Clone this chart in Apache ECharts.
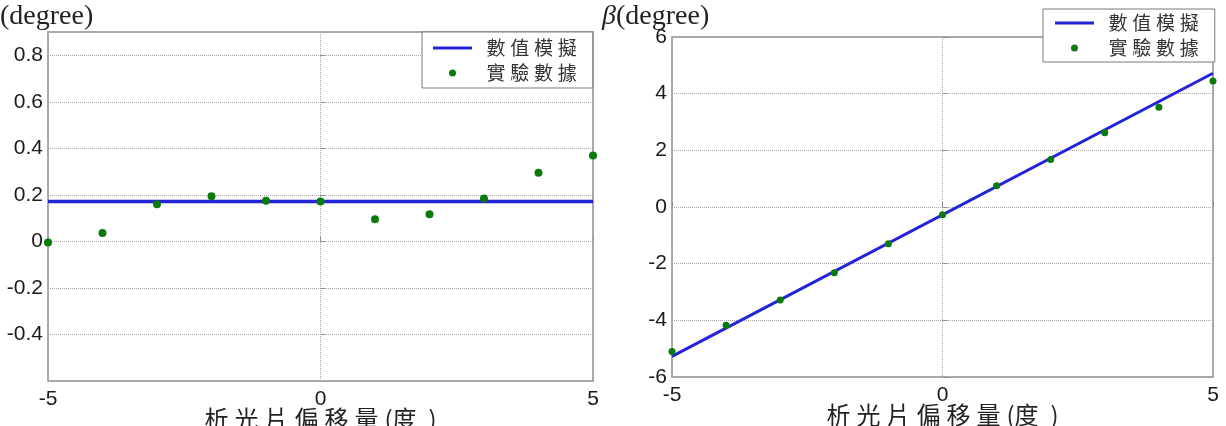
<!DOCTYPE html>
<html><head><meta charset="utf-8">
<script src="https://cdn.jsdelivr.net/npm/echarts@6/dist/echarts.min.js"></script>
<style>html,body{margin:0;padding:0;background:#fff}#c{width:1226px;height:426px}</style>
</head><body><div id="c"></div>
<script>
// ---- data ----
const offsets = [-5, -4, -3, -2, -1, 0, 1, 2, 3, 4, 5];
const alphaMeasured = [-0.005, 0.036, 0.16, 0.194, 0.175, 0.172, 0.095, 0.117, 0.184, 0.295, 0.369];
const betaMeasured = [-5.1, -4.17, -3.28, -2.32, -1.30, -0.27, 0.75, 1.68, 2.62, 3.52, 4.45];
const simX = [-5, 5];
const alphaSim = [0.172, 0.172];
const betaSim = [-5.27, 4.72];
const seriesNames = ['數值模擬', '實驗數據'];
const xName = '析光片偏移量(度)';
const leftYName = '(degree)';
const rightYName = 'β';

// ---- helpers ----
const pairs = (xs, ys) => xs.map((x, i) => [x, ys[i]]);
const spaced = s => s.split('').join('\u2005');
const BLUE = '#2323d8', GREEN = '#0a7a0a', BORDER = '#8f8f8f';
const sans = 'Liberation Sans, Arial, sans-serif';
const cjk = 'Noto Sans CJK TC, sans-serif';

function xAxisFor(gridIndex) {
  return {
    type: 'value', gridIndex, min: -5, max: 5, interval: 5,
    name: spaced(xName).replace('(\u2005', '(').replace('\u2005)', '\u2005\u2005)'),
    nameLocation: 'middle', nameGap: 25, nameMoveOverlap: false,
    nameTextStyle: { fontFamily: cjk, fontSize: 24, color: '#222', verticalAlign: 'top', lineHeight: 26 },
    axisLine: { show: false },
    axisTick: { show: true, inside: true, length: 5, lineStyle: { color: BORDER } },
    axisLabel: { margin: 8, fontFamily: sans, fontSize: 21, color: '#1a1a1a' },
    splitLine: { show: true, lineStyle: { type: 'dotted', color: '#a8a8a8', width: 1 } }
  };
}
function yAxisFor(gridIndex, min, max, interval, hideEnds) {
  return {
    type: 'value', gridIndex, min, max, interval,
    axisLine: { show: false },
    axisTick: { show: true, inside: true, length: 5, lineStyle: { color: BORDER } },
    axisLabel: { margin: 5, fontFamily: sans, fontSize: 21, color: '#1a1a1a',
      showMinLabel: !hideEnds, showMaxLabel: !hideEnds },
    splitLine: { show: true, lineStyle: { type: 'dotted', color: '#a8a8a8', width: 1 } }
  };
}
function legendFor(left, top, padding) {
  return {
    left, top, orient: 'vertical', padding,
    data: [
      { name: seriesNames[0], icon: 'path://M0,0L39,0L39,3L0,3Z' },
      { name: seriesNames[1], icon: 'circle' }
    ],
    itemWidth: 39, itemHeight: 7, itemGap: 5,
    formatter: n => '\u2005\u2005' + spaced(n),
    textStyle: { fontFamily: cjk, fontSize: 19, lineHeight: 20, color: '#333' },
    borderColor: '#7a7a7a', borderWidth: 1, backgroundColor: '#fff',
    selectedMode: false
  };
}

const chart = echarts.init(document.getElementById('c'), null, { renderer: 'canvas' });
chart.setOption({
  animation: false,
  backgroundColor: '#fff',
  grid: [
    { left: 48, top: 32, width: 545, height: 349, outerBoundsMode: 'none', containLabel: false,
      show: true, borderColor: BORDER, borderWidth: 1.5, backgroundColor: '#fff' },
    { left: 672, top: 37, width: 541, height: 340, outerBoundsMode: 'none', containLabel: false,
      show: true, borderColor: BORDER, borderWidth: 1.5, backgroundColor: '#fff' }
  ],
  xAxis: [xAxisFor(0), xAxisFor(1)],
  yAxis: [yAxisFor(0, -0.6, 0.9, 0.2, true), yAxisFor(1, -6, 6, 2, false)],
  legend: [legendFor(422, 32, [6, 16, 5, 11]), legendFor(1043, 9, [4, 16, 4, 12])],
  graphic: [
    { type: 'text', left: 0, top: 3, style: { text: leftYName, font: '28px "Liberation Serif", "Times New Roman", serif', fill: '#222' } },
    { type: 'text', left: 602, top: 3, style: { text: '{b|' + rightYName + '}' + leftYName,
      font: '28px "Liberation Serif", "Times New Roman", serif', fill: '#222',
      rich: { b: { fontStyle: 'italic', fontFamily: 'Liberation Serif', fontSize: 28, fill: '#222' } } } }
  ],
  series: [
    { name: seriesNames[0], type: 'line', xAxisIndex: 0, yAxisIndex: 0, data: pairs(simX, alphaSim),
      symbol: 'none', lineStyle: { color: BLUE, width: 3.5 }, itemStyle: { color: BLUE }, z: 3 },
    { name: seriesNames[1], type: 'scatter', xAxisIndex: 0, yAxisIndex: 0, data: pairs(offsets, alphaMeasured),
      symbol: 'circle', symbolSize: 8, itemStyle: { color: GREEN, opacity: 1 }, clip: false, z: 4 },
    { name: seriesNames[0], type: 'line', xAxisIndex: 1, yAxisIndex: 1, data: pairs(simX, betaSim),
      symbol: 'none', lineStyle: { color: BLUE, width: 3 }, itemStyle: { color: BLUE }, z: 3 },
    { name: seriesNames[1], type: 'scatter', xAxisIndex: 1, yAxisIndex: 1, data: pairs(offsets, betaMeasured),
      symbol: 'circle', symbolSize: 7, itemStyle: { color: GREEN, opacity: 1 }, clip: false, z: 4 }
  ]
});
</script></body></html>
